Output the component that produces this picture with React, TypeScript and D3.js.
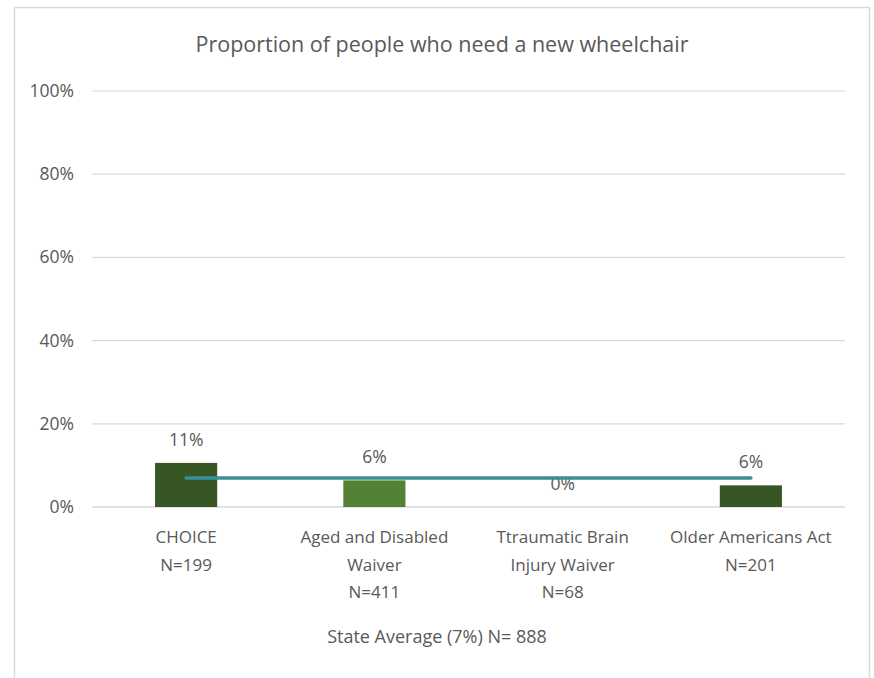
import React from "react";
import * as d3 from "d3";

const categories: string[][] = [
  ["CHOICE", "N=199"],
  ["Aged and Disabled", "Waiver", "N=411"],
  ["Ttraumatic Brain", "Injury Waiver", "N=68"],
  ["Older Americans Act", "N=201"],
];
const values: number[] = [10.6, 6.4, 0, 5.2];
const valueLabels: string[] = ["11%", "6%", "0%", "6%"];
const barColors: string[] = ["#375623", "#548235", "#375623", "#375623"];
const stateAverage = 7;
const yTicks: number[] = [0, 20, 40, 60, 80, 100];
const title = "Proportion of people who need a new wheelchair";
const footer = "State Average (7%) N= 888";

const W = 874;
const H = 678;
const FONT = "'Open Sans', sans-serif";
const TEXT = "#595959";

export default function App() {
  const x = d3.scaleBand<number>().domain(d3.range(categories.length)).range([92, 845]).paddingInner(0.67).paddingOuter(0.335);
  const y = d3.scaleLinear().domain([0, 100]).range([507, 91]);
  const cx = (i: number) => (x(i) as number) + x.bandwidth() / 2;
  const avgLine = d3.line<number>().x((i) => cx(i)).y(() => y(stateAverage));
  const idx = d3.range(categories.length);

  return (
    <svg width={W} height={H} style={{ position: "absolute", left: 0, top: 0, background: "#fff" }} fontFamily={FONT}>
      <rect x={0} y={0} width={W} height={H} fill="#fff" />
      <path d={`M14.5,${H} V7.5 H869.5 V${H}`} fill="none" stroke="#d9d9d9" strokeWidth={1.5} />
      <text x={442} y={52} textAnchor="middle" fontSize={21.5} fill={TEXT}>{title}</text>
      {yTicks.map((t) => (
        <g key={t}>
          <line x1={92} x2={845} y1={y(t)} y2={y(t)} stroke="#d9d9d9" strokeWidth={t === 0 ? 1.5 : 1.2} />
          <text x={74} y={y(t) + 6} textAnchor="end" fontSize={17.5} fill={TEXT}>{t}%</text>
        </g>
      ))}
      {idx.map((i) => (
        <rect key={i} x={x(i)} y={y(values[i])} width={x.bandwidth()} height={y(0) - y(values[i])} fill={barColors[i]} />
      ))}
      {idx.map((i) => (
        <text key={i} x={cx(i)} y={y(values[i]) - 17} textAnchor="middle" fontSize={17.5} fill={TEXT}>{valueLabels[i]}</text>
      ))}
      <path d={avgLine([0, categories.length - 1]) || ""} fill="none" stroke="#3a8e98" strokeWidth={3.5} strokeLinecap="round" />
      {idx.map((i) => (
        <text key={i} x={cx(i)} y={543} textAnchor="middle" fontSize={17} fill={TEXT}>
          {categories[i].map((l, j) => (
            <tspan key={j} x={cx(i)} dy={j === 0 ? 0 : 27.5}>{l}</tspan>
          ))}
        </text>
      ))}
      <text x={437} y={643} textAnchor="middle" fontSize={18} fill={TEXT}>{footer}</text>
    </svg>
  );
}
